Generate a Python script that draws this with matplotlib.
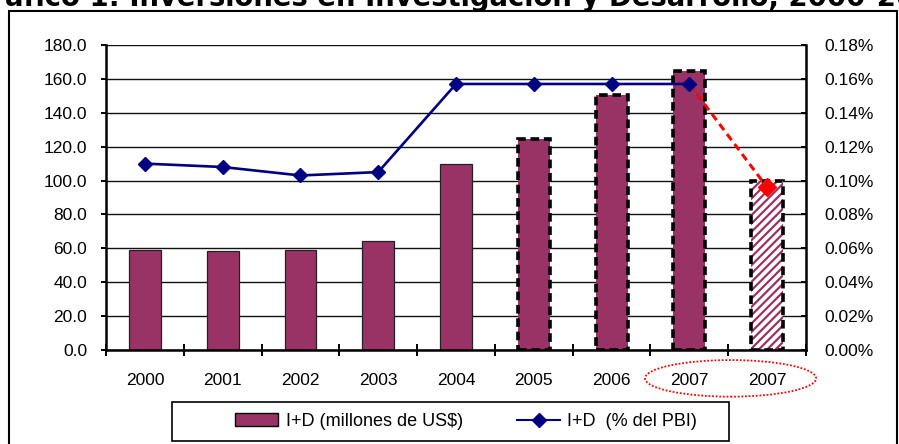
import matplotlib
matplotlib.use("Agg")
import matplotlib.pyplot as plt
from matplotlib.patches import Rectangle, Ellipse, Patch
from matplotlib.lines import Line2D
from matplotlib.ticker import FuncFormatter, MultipleLocator, FixedLocator

# ---- data ----
categories = ["2000", "2001", "2002", "2003", "2004", "2005", "2006", "2007", "2007"]
inversion_musd = [59.3, 58.5, 59.0, 64.5, 109.5, 124.5, 150.5, 164.5, 100.0]
inversion_pct = [0.110, 0.108, 0.103, 0.105, 0.157, 0.157, 0.157, 0.157]
proyeccion_pct = 0.096
solid_count = 5          # bars with a solid edge (2000-2004)
projected_index = 8      # hatched projected bar
title_text = "Gráfico 1: Inversiones en Investigación y Desarrollo, 2000-2007"
legend_labels = ["I+D (millones de US$)", "I+D  (% del PBI)"]

plum = "#993366"
navy = "#000080"

plt.rcParams["font.family"] = ["Liberation Sans", "DejaVu Sans"]
plt.rcParams["hatch.linewidth"] = 1.6

W, H = 899, 444
fig = plt.figure(figsize=(W / 100, H / 100), dpi=100)
fig.patch.set_facecolor("white")

def fx(px):
    return px / W

def fy(py):
    return 1 - py / H

ax = fig.add_axes([fx(106), fy(350), fx(806) - fx(106), fy(45) - fy(350)])
x = list(range(len(categories)))

# bars
for i, (xi, v) in enumerate(zip(x, inversion_musd)):
    if i < solid_count:
        ax.bar(xi, v, width=0.41, color=plum, edgecolor="#222222", linewidth=0.9, zorder=2)
    elif i == projected_index:
        ax.bar(xi, v, width=0.41, color="white", edgecolor=plum, hatch="////",
               linewidth=0, zorder=2)
        ax.bar(xi, v, width=0.41, fill=False, edgecolor="black", linewidth=2.6,
               linestyle=(0, (2.4, 1.3)), zorder=3)
    else:
        ax.bar(xi, v, width=0.41, color=plum, edgecolor="black", linewidth=2.6,
               linestyle=(0, (2.4, 1.3)), zorder=2)

ax.set_xlim(-0.5, len(categories) - 0.5)
ax.set_ylim(0, 180)
ax.yaxis.set_major_locator(MultipleLocator(20))
ax.yaxis.set_major_formatter(FuncFormatter(lambda v, p: f"{v:.1f}"))
ax.set_axisbelow(True)
ax.grid(axis="y", color="#111111", linewidth=1.0, zorder=0)
ax.set_xticks(x)
ax.set_xticklabels(categories)
ax.xaxis.set_minor_locator(FixedLocator([i - 0.5 for i in range(len(categories) + 1)]))
ax.tick_params(axis="x", which="major", length=0, pad=16.5, labelsize=12.5)
ax.tick_params(axis="x", which="minor", direction="inout", length=8, width=1.4)
ax.tick_params(axis="y", direction="out", length=3.6, width=1.4, pad=10, labelsize=12.5)
for s in ["top", "right"]:
    ax.spines[s].set_visible(False)
for s in ["left", "bottom"]:
    ax.spines[s].set_linewidth(1.8)

# secondary axis
ax2 = ax.twinx()
ax2.set_ylim(0, 0.18)
ax2.yaxis.set_major_locator(MultipleLocator(0.02))
ax2.yaxis.set_major_formatter(FuncFormatter(lambda v, p: f"{v:.2f}%"))
ax2.tick_params(axis="y", direction="in", length=3.6, width=1.4, pad=13, labelsize=12.5)
for s in ["top", "left", "bottom"]:
    ax2.spines[s].set_visible(False)
ax2.spines["right"].set_linewidth(1.8)

n = len(inversion_pct)
ax2.plot(x[:n], inversion_pct, color=navy, linewidth=1.9, marker="D", markersize=7,
         zorder=5)
ax2.plot([x[n - 1], x[projected_index]], [inversion_pct[-1], proyeccion_pct],
         color="red", linewidth=2.2, linestyle=(0, (2.5, 1.6)), zorder=4)
ax2.plot([x[projected_index]], [proyeccion_pct], color="red", marker="D",
         markersize=9, linestyle="none", zorder=6)

# dotted ellipse around the two 2007 labels
ell = Ellipse((7.53, -0.093), width=2.2, height=0.12, transform=ax.get_xaxis_transform(),
              fill=False, edgecolor="red", linestyle=(0, (1, 1)), linewidth=1.3,
              clip_on=False)
ax.add_patch(ell)

# outer frame
fig.add_artist(Rectangle((fx(9), -0.1), fx(897) - fx(9), fy(11) + 0.1,
                         transform=fig.transFigure, fill=False, edgecolor="black",
                         linewidth=1.5))

# legend frame and legend
fig.add_artist(Rectangle((fx(172), fy(441)), fx(729) - fx(172), fy(402) - fy(441),
                         transform=fig.transFigure, fill=False, edgecolor="black",
                         linewidth=1.2))
handles = [Patch(facecolor=plum, edgecolor="black", linewidth=1.0),
           Line2D([], [], color=navy, marker="D", linewidth=1.5, markersize=7)]
fig.legend(handles, legend_labels, loc="center left",
           bbox_to_anchor=(fx(235), fy(421.5)), frameon=False, ncol=2,
           fontsize=13, handlelength=2.4, handletextpad=0.4, columnspacing=3.0,
           borderpad=0, borderaxespad=0)

# title (cut off at the top as in the reference)
fig.canvas.draw()
r = fig.canvas.get_renderer()
tmp = fig.text(0, 0, "Inversiones en Investigación y Desarrollo, 2000-", fontsize=10,
               weight="bold", family="DejaVu Sans")
w10 = tmp.get_window_extent(r).width
tmp.remove()
fs = 10 * 750 / w10
tmp2 = fig.text(0, 0, "Gráfico 1: I", fontsize=fs, weight="bold", family="DejaVu Sans")
pw2 = tmp2.get_window_extent(r).width
tmp3 = fig.text(0, 0, "I", fontsize=fs, weight="bold", family="DejaVu Sans")
pw3 = tmp3.get_window_extent(r).width
tmp2.remove(); tmp3.remove()
prefix_w = pw2 - pw3
fig.text(fx(129 - prefix_w), fy(5.5), title_text, fontsize=fs, weight="bold",
         family="DejaVu Sans", ha="left", va="baseline")

fig.savefig("out.png", dpi=100)
